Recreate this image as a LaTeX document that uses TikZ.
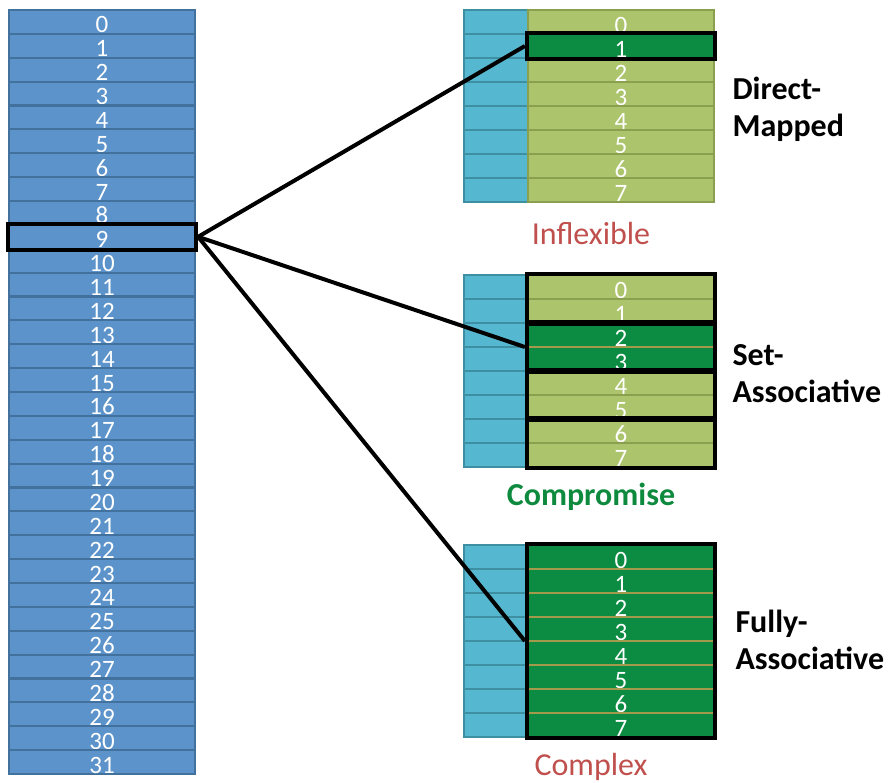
\documentclass[tikz,border=0pt]{standalone}
\usepackage{fontspec}
\setmainfont{Carlito}
\usetikzlibrary{fit}
\definecolor{memfill}{HTML}{5B93CA}
\definecolor{memedge}{HTML}{41719C}
\definecolor{tagfill}{HTML}{56B8D0}
\definecolor{tagedge}{HTML}{3F8FA3}
\definecolor{linefill}{HTML}{ACC46C}
\definecolor{lineedge}{HTML}{8AA04E}
\definecolor{hitfill}{HTML}{0B8C42}
\definecolor{hitedge}{HTML}{A39A4C}
\definecolor{redlabel}{HTML}{C0504D}
\definecolor{greenlabel}{HTML}{0E8A3E}
\begin{document}
\begin{tikzpicture}[x=1pt,y=-1pt,
  digits/.style={text=white, font=\fontsize{25}{25}\selectfont, text height=22pt, text depth=0pt, inner sep=0pt},
  memcell/.style={digits, draw=memedge, fill=memfill, line width=2.2pt, minimum width=186pt, minimum height=23.875pt},
  tagcell/.style={draw=tagedge, fill=tagfill, line width=2.2pt, minimum width=64pt, minimum height=24pt, inner sep=0pt},
  linecell/.style={digits, draw=lineedge, fill=linefill, line width=2.2pt, minimum width=186pt, minimum height=24pt},
  hitcell/.style={digits, draw=hitedge, fill=hitfill, line width=2.2pt, minimum width=186pt, minimum height=24pt},
  selbox/.style={draw=black, line width=4pt, inner sep=0pt},
  conn/.style={draw=black, line width=4pt},
  kind/.style={anchor=west, align=left, font=\fontsize{32}{37}\selectfont\bfseries},
  verdict/.style={font=\fontsize{32}{32}\selectfont}
]
\useasboundingbox (0,0) rectangle (889,782);

% main memory: 32 blocks
\foreach \i in {0,...,31}
  \node[memcell] (m\i) at (102,{10+23.875*(\i+0.5)}) {\i};
\node[selbox, fit=(m9)] (sel) {};

% direct-mapped cache
\foreach \i in {0,...,7}{
  \node[tagcell] (dt\i) at (496,{10+24*(\i+0.5)}) {};
  \ifnum\i=1
    \node[hitcell] (d\i) at (621,{10+24*(\i+0.5)}) {\i};
  \else
    \node[linecell] (d\i) at (621,{10+24*(\i+0.5)}) {\i};
  \fi
}
\node[selbox, fit=(d1)] (dsel) {};

% set-associative cache, two lines per set
\foreach \i in {0,...,7}{
  \node[tagcell] (st\i) at (496,{275+24*(\i+0.5)}) {};
  \ifnum\i=2
    \node[hitcell] (s\i) at (621,{275+24*(\i+0.5)}) {\i};
  \else\ifnum\i=3
    \node[hitcell] (s\i) at (621,{275+24*(\i+0.5)}) {\i};
  \else
    \node[linecell] (s\i) at (621,{275+24*(\i+0.5)}) {\i};
  \fi\fi
}
\node[selbox, fit=(s0)(s1)] (set0) {};
\node[selbox, fit=(s2)(s3)] (set1) {};
\node[selbox, fit=(s4)(s5)] (set2) {};
\node[selbox, fit=(s6)(s7)] (set3) {};

% fully-associative cache
\foreach \i in {0,...,7}{
  \node[tagcell] (ft\i) at (496,{545+24*(\i+0.5)}) {};
  \node[hitcell] (f\i) at (621,{545+24*(\i+0.5)}) {\i};
}
\node[selbox, fit=(f0)(f7)] (fall) {};

% mapping of block 9
\draw[conn] (sel.east) -- (dsel.west);
\draw[conn] (sel.east) -- (set1.west);
\draw[conn] (sel.east) -- (fall.west);

% captions
\node[verdict, text=redlabel] (v1) at (591,233) {Inflexible};
\node[verdict, text=greenlabel, font=\fontsize{32}{32}\selectfont\bfseries] (v2) at (591,497) {Compromise};
\node[verdict, text=redlabel] (v3) at (591,767) {Complex};

\node[kind] (k1) at (729,109) {Direct-\\Mapped};
\node[kind] (k2) at (729,374) {Set-\\Associative};
\node[kind] (k3) at (732,640) {Fully-\\Associative};
\end{tikzpicture}
\end{document}
